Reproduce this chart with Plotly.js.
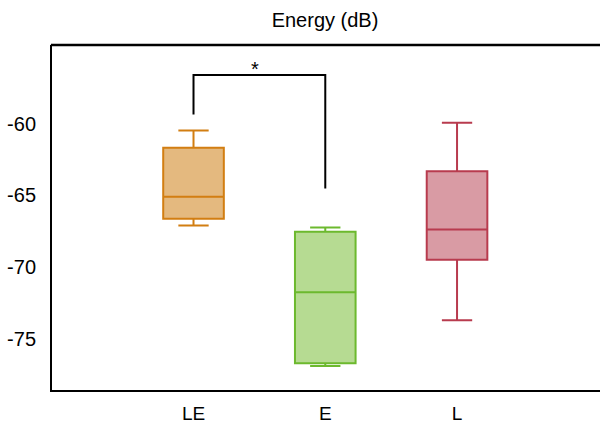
<!DOCTYPE html>
<html>
<head>
<meta charset="utf-8">
<script src="https://cdn.plot.ly/plotly-3.0.1.min.js"></script>
<style>html,body{margin:0;padding:0;background:#fff;}#chart{width:600px;height:425px;}</style>
</head>
<body>
<div id="chart"></div>
<script>
const categories = ["LE", "E", "L"];
const positions = [0, 1, 2];
const lowerWhisker = [-67.09, -76.89, -73.70];
const q1Values = [-66.62, -76.70, -69.48];
const medians = [-65.08, -71.74, -67.37];
const q3Values = [-61.68, -67.53, -63.31];
const upperWhisker = [-60.47, -67.23, -59.93];
const lineColors = ["#D27E12", "#6CB92E", "#B83B4E"];
const fillColors = ["#E4B97F", "#B6DB92", "#D99BA4"];
const sigPair = [0, 1];
const sigTop = -56.6;
const sigLegBottoms = [-59.35, -64.52];
const sigLabel = "*";

const traces = categories.map((c, i) => ({
  type: "box",
  name: c,
  x: [positions[i]],
  q1: [q1Values[i]],
  median: [medians[i]],
  q3: [q3Values[i]],
  lowerfence: [lowerWhisker[i]],
  upperfence: [upperWhisker[i]],
  width: 0.46,
  whiskerwidth: 0.5,
  line: {color: lineColors[i], width: 2},
  fillcolor: fillColors[i],
  boxpoints: false,
  hoverinfo: "skip",
  showlegend: false
}));

traces.push({
  type: "scatter",
  mode: "lines",
  x: [positions[sigPair[0]], positions[sigPair[0]], positions[sigPair[1]], positions[sigPair[1]]],
  y: [sigLegBottoms[0], sigTop, sigTop, sigLegBottoms[1]],
  line: {color: "#000", width: 2},
  hoverinfo: "skip",
  showlegend: false
});

const layout = {
  width: 600, height: 425,
  margin: {l: 52, r: 0, t: 45, b: 35},
  paper_bgcolor: "#fff", plot_bgcolor: "#fff",
  font: {family: "Liberation Sans, Arial, sans-serif", size: 20, color: "#000"},
  title: {text: "Energy (dB)", x: 0.5417, xanchor: "center", y: 0.953, yanchor: "middle", font: {size: 20, color: "#000"}},
  xaxis: {
    range: [-1.074, 3.085],
    tickvals: positions, ticktext: categories,
    showgrid: false, zeroline: false,
    showline: true, linecolor: "#000", linewidth: 2,
    ticks: "", ticklabelstandoff: 5,
    tickfont: {size: 19}
  },
  yaxis: {
    range: [-78.56, -54.51],
    tickvals: [-60, -65, -70, -75], ticktext: ["-60", "-65", "-70", "-75"],
    showgrid: false, zeroline: false,
    showline: true, linecolor: "#000", linewidth: 2,
    ticks: "", ticklabelstandoff: 10
  },
  shapes: [{
    type: "line", xref: "paper", yref: "paper",
    x0: -0.002, x1: 1.01, y0: 1, y1: 1,
    line: {color: "#000", width: 2.5}
  }],
  annotations: [{
    x: (positions[sigPair[0]] + positions[sigPair[1]]) / 2 - 0.03, y: sigTop,
    xref: "x", yref: "y", text: sigLabel, showarrow: false,
    yanchor: "bottom", yshift: -7, font: {size: 20, color: "#000"}
  }]
};

Plotly.newPlot("chart", traces, layout, {displayModeBar: false, staticPlot: true});
</script>
</body>
</html>
